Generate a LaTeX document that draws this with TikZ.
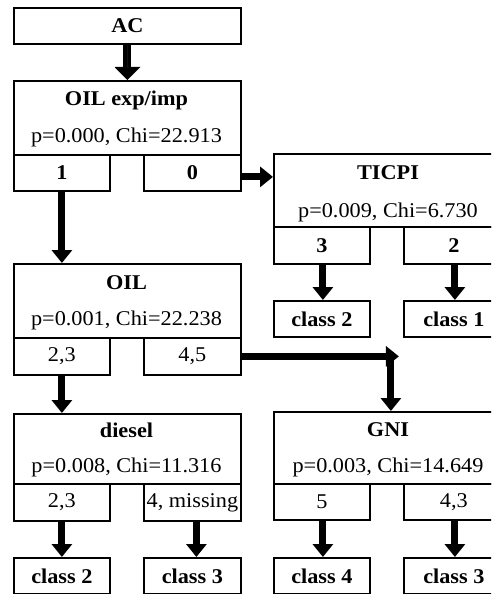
\documentclass[tikz,border=0pt]{standalone}
\usepackage{fontspec}
\setmainfont{Liberation Serif}[FakeStretch=1.06]
\usetikzlibrary{arrows.meta}
\begin{document}
\begin{tikzpicture}[x=1pt,y=-1pt,
  bx/.style={draw, line width=1.8pt, inner sep=0pt, anchor=north west},
  ttl/.style={font=\fontsize{21}{21}\selectfont\bfseries, inner sep=0pt},
  pv/.style={font=\fontsize{21}{21}\selectfont, inner sep=0pt},
  bt/.style={font=\fontsize{21}{21}\selectfont\bfseries},
  rt/.style={font=\fontsize{21}{21}\selectfont},
  arr/.style={line width=7pt, -{Triangle[width=20pt,length=13pt]}}]
\useasboundingbox (0,0) rectangle (491,594);
\clip (0,0) rectangle (491,594);
% AC
\node[bx,bt,minimum width=227pt,minimum height=36pt] (ac) at (13,7) {AC};
% OIL exp/imp
\node[bx,minimum width=227pt,minimum height=74pt] (oilx) at (13,80) {};
\node[ttl] (oilxT) at (126.5,100) {OIL exp/imp};
\node[pv] (oilxP) at (126.5,137) {p=0.000, Chi=22.913};
\node[bx,bt,minimum width=96pt,minimum height=36pt] (s1) at (13,154) {1};
\node[bx,bt,minimum width=97pt,minimum height=36pt] (s0) at (143,154) {0};
% TICPI
\node[bx,minimum width=230pt,minimum height=73pt] (ticpi) at (273,153) {};
\node[ttl] (ticpiT) at (388,173) {TICPI};
\node[pv] (ticpiP) at (388,212) {p=0.009, Chi=6.730};
\node[bx,bt,minimum width=96pt,minimum height=37pt] (t3) at (273,226) {3};
\node[bx,bt,minimum width=100pt,minimum height=37pt] (t2) at (403,226) {2};
\node[bx,bt,minimum width=96pt,minimum height=36pt] (ca) at (273,300) {class 2};
\node[bx,bt,minimum width=100pt,minimum height=36pt] (cb) at (403,300) {class 1};
% OIL
\node[bx,minimum width=227pt,minimum height=74pt] (oil) at (13,263) {};
\node[ttl] (oilT) at (126.5,283) {OIL};
\node[pv] (oilP) at (126.5,320) {p=0.001, Chi=22.238};
\node[bx,rt,minimum width=96pt,minimum height=37pt] (o23) at (13,337) {2,3};
\node[bx,rt,minimum width=97pt,minimum height=37pt] (o45) at (143,337) {4,5};
% diesel
\node[bx,minimum width=227pt,minimum height=70pt] (dsl) at (13,413) {};
\node[ttl] (dslT) at (126.5,430) {diesel};
\node[pv] (dslP) at (126.5,467) {p=0.008, Chi=11.316};
\node[bx,rt,minimum width=96pt,minimum height=37pt] (d23) at (13,483) {2,3};
\node[bx,rt,minimum width=97pt,minimum height=37pt] (d4) at (143,483) {4, missing};
\node[bx,bt,minimum width=96pt,minimum height=36pt] (cc) at (13,557) {class 2};
\node[bx,bt,minimum width=97pt,minimum height=36pt] (cd) at (143,557) {class 3};
% GNI
\node[bx,minimum width=230pt,minimum height=72pt] (gni) at (273,411) {};
\node[ttl] (gniT) at (388,430) {GNI};
\node[pv] (gniP) at (388,467) {p=0.003, Chi=14.649};
\node[bx,rt,minimum width=96pt,minimum height=36pt] (g5) at (273,483) {5};
\node[bx,rt,minimum width=100pt,minimum height=36pt] (g43) at (403,483) {4,3};
\node[bx,bt,minimum width=96pt,minimum height=36pt] (ce) at (273,557) {class 4};
\node[bx,bt,minimum width=100pt,minimum height=36pt] (cf) at (403,557) {class 3};
% connectors
\draw[line width=8pt, -{Triangle[width=25pt,length=13pt]}] (ac.south) -- (oilx.north);
\draw[blue!60!black, line width=1.3pt] (ac.south) -- ([yshift=-23pt]ac.south);
\draw[arr] (s1.south) -- (s1.south |- oil.north);
\draw[arr] ([yshift=-4pt]s0.east) -- ([yshift=-4pt]s0.east -| ticpi.west);
\draw[arr] ([xshift=1pt]t3.south) -- ([xshift=1pt]t3.south |- ca.north);
\draw[arr] ([xshift=1pt]t2.south) -- ([xshift=1pt]t2.south |- cb.north);
\draw[arr] (o23.south) -- (o23.south |- dsl.north);
\coordinate (bend) at ([xshift=2pt]gni.north |- o45.east);
\draw[arr] (o45.east) -- ([xshift=8pt]bend);
\draw[arr] ([yshift=4pt]bend) -- ([xshift=2pt]gni.north);
\draw[arr] (d23.south) -- (d23.south |- cc.north);
\draw[arr] ([xshift=4pt]d4.south) -- ([xshift=4pt]d4.south |- cd.north);
\draw[arr] ([xshift=1pt]g5.south) -- ([xshift=1pt]g5.south |- ce.north);
\draw[arr] ([xshift=1pt]g43.south) -- ([xshift=1pt]g43.south |- cf.north);
\end{tikzpicture}
\end{document}
